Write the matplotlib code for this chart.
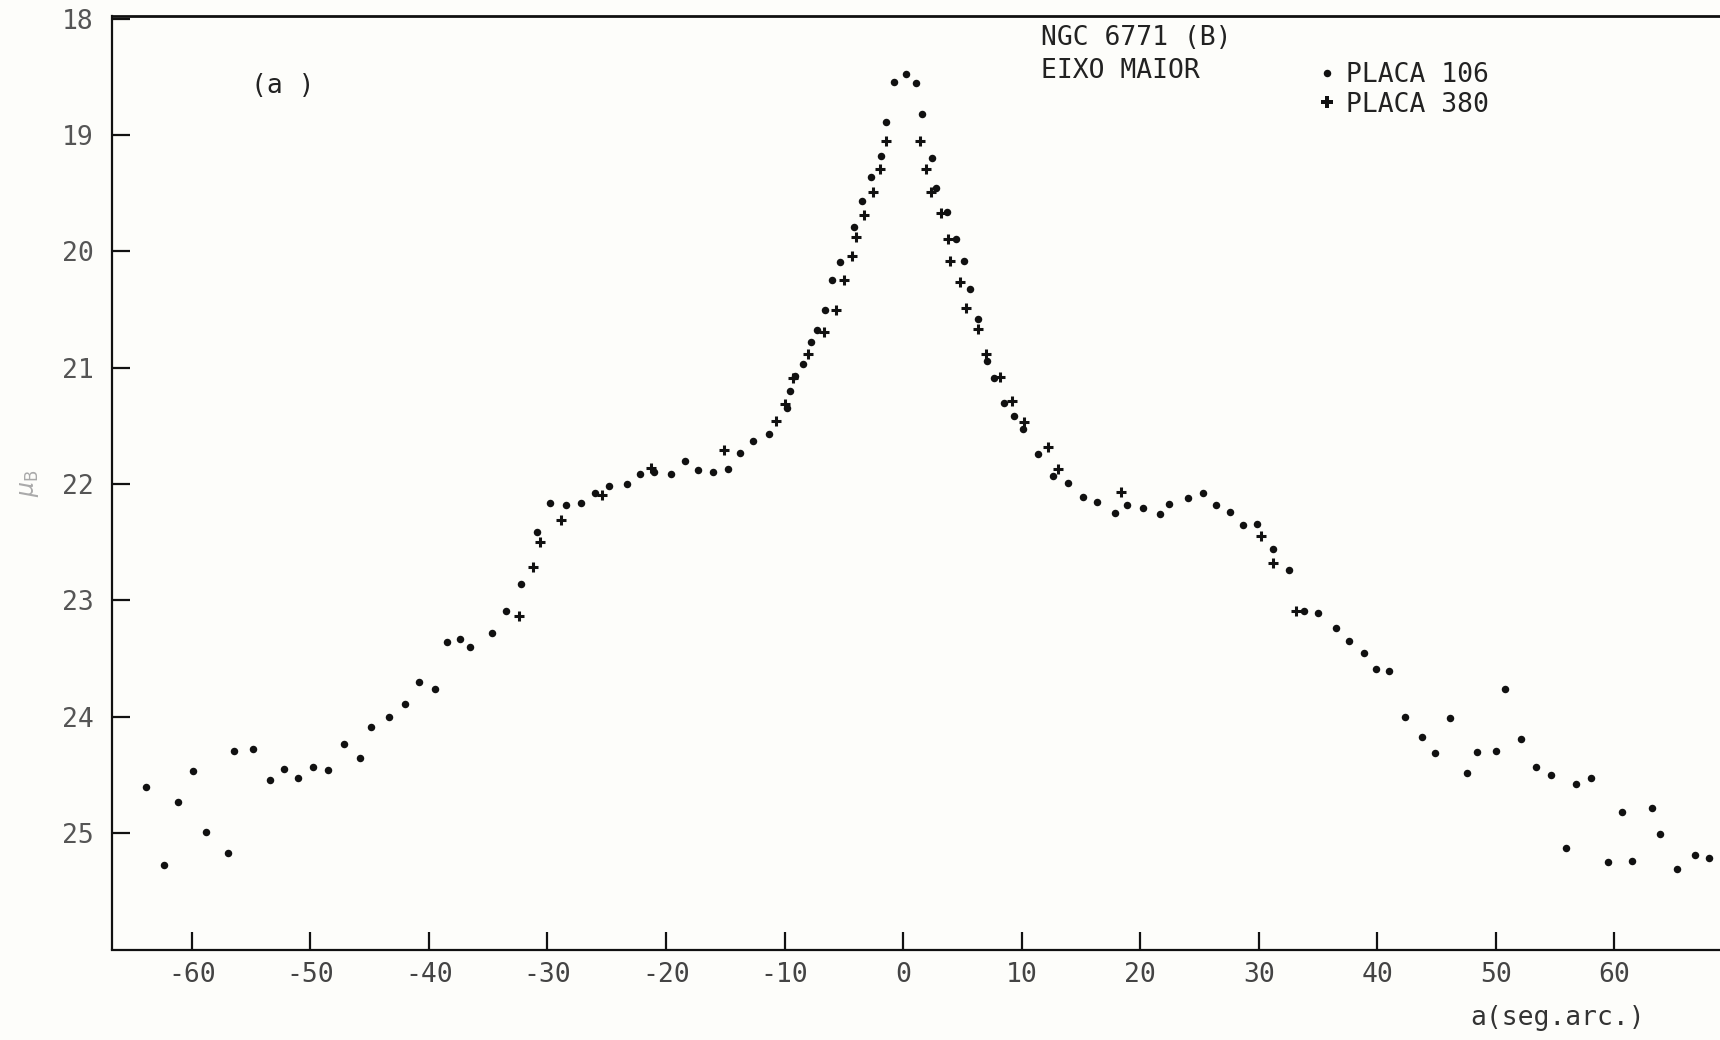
import matplotlib
matplotlib.use("Agg")
import matplotlib.pyplot as plt
from matplotlib.lines import Line2D

plt.rcParams["axes.unicode_minus"] = False
MONO = ["DejaVu Sans Mono"]

# Surface brightness profile of NGC 6771 (B band) along the major axis
# PLACA 106 (dots)
placa106_a = [
    -63.89, -62.35, -61.20, -59.93, -58.83, -56.98, -56.47, -54.82, -53.41, -52.25,
    -51.07, -49.75, -48.49, -47.19, -45.82, -44.89, -43.34, -42.00, -40.84, -39.52,
    -38.45, -37.38, -36.54, -34.68, -33.52, -32.23, -30.86, -29.79, -28.41, -27.20,
    -25.95, -24.78, -23.29, -22.20, -21.04, -19.60, -18.40, -17.30, -16.01, -14.80,
    -13.79, -12.64, -11.29, -9.80, -9.57, -9.15, -8.42, -7.77, -7.26, -6.56,
    -6.00, -5.35, -4.14, -3.47, -2.71, -1.86, -1.47, -0.77, 0.27, 1.09,
    1.62, 2.47, 2.78, 3.68, 4.46, 5.11, 5.64, 6.29, 7.08, 7.67,
    8.48, 9.36, 10.09, 11.35, 12.62, 13.91, 15.15, 16.38, 17.90, 18.86,
    20.21, 21.65, 22.43, 24.03, 25.27, 26.37, 27.60, 28.67, 29.85, 31.23,
    32.58, 33.82, 35.03, 36.49, 37.59, 38.90, 39.90, 40.97, 42.34, 43.75,
    44.87, 46.16, 47.54, 48.41, 49.99, 50.78, 52.15, 53.42, 54.66, 55.90,
    56.77, 58.00, 59.44, 60.62, 61.52, 63.15, 63.83, 65.31, 66.80, 68.01,
]
placa106_mu = [
    24.60, 25.27, 24.73, 24.47, 24.99, 25.17, 24.29, 24.28, 24.54, 24.45,
    24.53, 24.43, 24.46, 24.23, 24.35, 24.09, 24.00, 23.89, 23.70, 23.76,
    23.36, 23.33, 23.40, 23.28, 23.09, 22.86, 22.41, 22.16, 22.18, 22.16,
    22.08, 22.02, 22.00, 21.91, 21.90, 21.91, 21.80, 21.88, 21.90, 21.87,
    21.73, 21.63, 21.57, 21.35, 21.20, 21.07, 20.97, 20.78, 20.68, 20.50,
    20.25, 20.09, 19.79, 19.57, 19.36, 19.18, 18.89, 18.545, 18.48, 18.55,
    18.82, 19.20, 19.46, 19.66, 19.89, 20.08, 20.32, 20.58, 20.94, 21.09,
    21.30, 21.415, 21.53, 21.74, 21.93, 21.99, 22.11, 22.15, 22.25, 22.18,
    22.21, 22.26, 22.17, 22.12, 22.08, 22.18, 22.24, 22.35, 22.34, 22.56,
    22.74, 23.09, 23.11, 23.24, 23.35, 23.45, 23.59, 23.61, 24.00, 24.17,
    24.31, 24.01, 24.48, 24.30, 24.29, 23.76, 24.19, 24.43, 24.50, 25.13,
    24.58, 24.53, 25.25, 24.82, 25.24, 24.78, 25.01, 25.31, 25.19, 25.21,
]

# PLACA 380 (crosses)
placa380_a = [
    -32.40, -31.22, -30.63, -28.82, -25.43, -21.29, -15.11, -10.72, -9.93, -9.31,
    -8.00, -6.64, -5.69, -5.01, -4.28, -3.97, -3.32, -2.57, -1.95, -1.47,
    1.40, 1.90, 2.35, 3.20, 3.76, 3.98, 4.77, 5.31, 6.32, 7.02,
    8.20, 9.19, 10.18, 12.25, 13.09, 18.41, 30.22, 31.20, 33.15,
]
placa380_mu = [
    23.13, 22.71, 22.50, 22.31, 22.09, 21.86, 21.71, 21.46, 21.31, 21.09,
    20.88, 20.69, 20.50, 20.25, 20.04, 19.88, 19.69, 19.49, 19.29, 19.05,
    19.05, 19.29, 19.49, 19.67, 19.89, 20.08, 20.26, 20.49, 20.67, 20.88,
    21.08, 21.29, 21.47, 21.68, 21.87, 22.07, 22.45, 22.68, 23.09,
]

x_ticks = [-60, -50, -40, -30, -20, -10, 0, 10, 20, 30, 40, 50, 60]
y_ticks = [18, 19, 20, 21, 22, 23, 24, 25]

W, H = 1720, 1040
fig = plt.figure(figsize=(W / 100, H / 100), dpi=100, facecolor="#fdfdfa")
ax = fig.add_axes([112 / W, (H - 949.5) / H, (W - 112) / W, (949.5 - 16.5) / H])
ax.set_facecolor("#fdfdfa")

ax.plot(placa106_a, placa106_mu, linestyle="none", marker="o", markersize=5.4,
        color="#111111", markeredgewidth=0)
ax.plot(placa380_a, placa380_mu, linestyle="none", marker="+", markersize=7.5,
        markeredgewidth=2.2, color="#111111")

ax.set_xlim(-66.74, 68.92)
ax.set_ylim(26, 17.982)

ax.set_xticks(x_ticks)
ax.set_yticks(y_ticks)
ax.set_xticklabels([str(v) for v in x_ticks])
ax.set_yticklabels([str(v) for v in y_ticks])

ax.tick_params(axis="both", direction="in", length=13, width=1.6, color="#111111")
ax.tick_params(axis="x", pad=9, labelsize=19, labelcolor="#444444")
ax.tick_params(axis="y", pad=13, labelsize=19, labelcolor="#555555")
for lab in ax.get_xticklabels() + ax.get_yticklabels():
    lab.set_family(MONO)

ax.spines["right"].set_visible(False)
ax.spines["top"].set_linewidth(2.0)
ax.spines["left"].set_linewidth(1.6)
ax.spines["bottom"].set_linewidth(1.6)
for s in ("top", "left", "bottom"):
    ax.spines[s].set_color("#111111")

ax.set_xlabel("a(seg.arc.)", family=MONO, fontsize=19, color="#333333")
ax.xaxis.set_label_coords(0.899, -0.060)
ax.set_ylabel(r"$\mu_{\rm B}$", fontsize=17, color="#aaaaaa")
ax.yaxis.set_label_coords(-0.044, 0.50)

txt = dict(family=MONO, fontsize=19, color="#222222")
ax.text(-52.3, 18.58, "(a )", ha="center", va="center", **txt)
ax.text(11.6, 18.17, "NGC 6771 (B)", ha="left", va="center", **txt)
ax.text(11.6, 18.45, "EIXO MAIOR", ha="left", va="center", **txt)

handles = [
    Line2D([], [], linestyle="none", marker="o", markersize=5.4,
           color="#111111", markeredgewidth=0),
    Line2D([], [], linestyle="none", marker="P", markersize=8.5,
           color="#111111", markeredgewidth=0),
]
ax.legend(handles, ["PLACA 106", "PLACA 380"], loc="upper left",
          bbox_to_anchor=(0.741, 0.965), frameon=False, borderpad=0,
          handlelength=0.8, handletextpad=0.3, labelspacing=0.12,
          prop={"family": MONO, "size": 19}, labelcolor="#222222")

fig.savefig("out.png", dpi=100, facecolor=fig.get_facecolor())
